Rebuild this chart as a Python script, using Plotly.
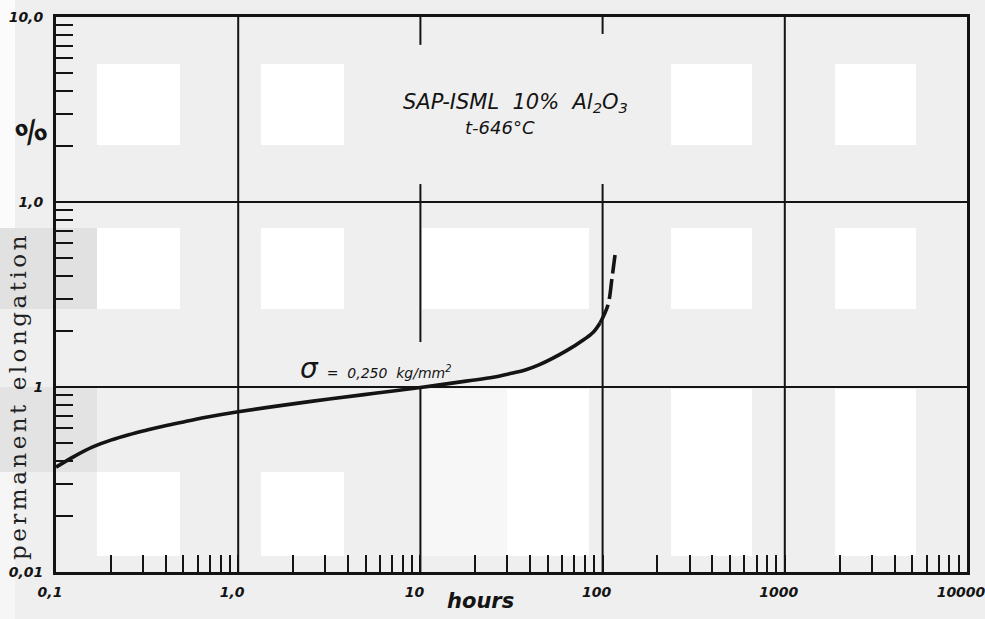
import math
import plotly.graph_objects as go

# Creep curve, SAP-ISML 10% Al2O3 at 646 °C, sigma = 0.250 kg/mm²
hours_solid = [0.1, 0.126, 0.158, 0.2, 0.251, 0.316, 0.398, 0.501, 0.631, 0.794,
               1.0, 1.78, 3.16, 5.62, 10.0, 17.8, 25.1, 31.6, 37.6, 44.7, 63.1, 79.4,
               89.1, 96.8]
elong_solid = [0.0369, 0.0422, 0.0473, 0.0516, 0.0552, 0.0585, 0.0617, 0.0647,
               0.0679, 0.0708, 0.0735, 0.0798, 0.0861, 0.0925, 0.0993, 0.1076,
               0.1128, 0.1185, 0.1236, 0.1316, 0.1567, 0.1811, 0.1982, 0.2218]
hours_dash = [96.8, 107.0, 112.6, 117.0]
elong_dash = [0.2218, 0.2776, 0.388, 0.517]

x_decades = [0.1, 1, 10, 100, 1000, 10000]
x_labels = ["0,1", "1,0", "10", "100", "1000", "10000"]
y_decades = [0.01, 0.1, 1, 10]
y_labels = ["0,01", "1", "1,0", "10,0"]

# figure geometry (pixels)
W, H = 985, 619
L, R, T, B = 56, 967, 17, 572
PW, PH = R - L, B - T
XMIN, XMAX = -1, 4
YMIN, YMAX = -2, 1


def fx(px):
    return (px - L) / PW


def fy(py):
    return (B - py) / PH


def lx(v):
    return (math.log10(v) - XMIN) / (XMAX - XMIN)


def ly(v):
    return (math.log10(v) - YMIN) / (YMAX - YMIN)


def log_ticks(decades):
    vals = []
    for i, d in enumerate(decades):
        vals.append(d)
        if i < len(decades) - 1:
            vals.extend(d * k for k in range(2, 10))
    return vals


xt = log_ticks(x_decades)
yt = log_ticks(y_decades)
xtext = [x_labels[x_decades.index(v)] if v in x_decades else "" for v in xt]
ytext = [y_labels[y_decades.index(v)] if v in y_decades else "" for v in yt]

INK = "#141414"
BG = "#efefef"

fig = go.Figure()
fig.add_trace(go.Scatter(x=hours_solid, y=elong_solid, mode="lines",
                         line=dict(color=INK, width=3.6, shape="spline", smoothing=1.0),
                         hoverinfo="skip", showlegend=False))
fig.add_trace(go.Scatter(x=hours_dash, y=elong_dash, mode="lines",
                         line=dict(color=INK, width=3.6, dash="20px,6px", shape="spline"),
                         hoverinfo="skip", showlegend=False))

shapes = []

# paper tone patches
patches = [
    (0, 0, 15, 228, "#fbfbfb"),
    (0, 472, 15, 619, "#f6f6f6"),
    (0, 228, 97, 309, "#e1e1e1"),
    (0, 387, 97, 472, "#e3e3e3"),
    (422, 389, 507, 556, "#f7f7f7"),
    (507, 389, 589, 556, "#ffffff"),
    (422, 228, 589, 309, "#ffffff"),
]
for cx0, cx1 in [(97, 180), (261, 344), (671, 752), (835, 916)]:
    patches.append((cx0, 64, cx1, 145, "#ffffff"))
    patches.append((cx0, 228, cx1, 309, "#ffffff"))
for cx0, cx1 in [(97, 180), (261, 344)]:
    patches.append((cx0, 472, cx1, 556, "#ffffff"))
for cx0, cx1 in [(671, 752), (835, 916)]:
    patches.append((cx0, 389, cx1, 556, "#ffffff"))
for x0, y0, x1, y1, c in patches:
    shapes.append(dict(type="rect", xref="paper", yref="paper",
                       x0=fx(x0), x1=fx(x1), y0=fy(y1), y1=fy(y0),
                       fillcolor=c, line=dict(width=0), layer="below"))

# grid lines (gaps left around the lettering)
grid_v = [
    (1, [(0.01, 10)]),
    (10, [(0.01, 0.1), (0.175, 1.25), (7.07, 10)]),
    (100, [(0.01, 1.25), (8.1, 10)]),
    (1000, [(0.01, 10)]),
]
for xv, segs in grid_v:
    for y0, y1 in segs:
        shapes.append(dict(type="line", xref="paper", yref="paper",
                           x0=lx(xv), x1=lx(xv), y0=ly(y0), y1=ly(y1),
                           line=dict(color=INK, width=2), layer="below"))
for yv in [0.1, 1]:
    shapes.append(dict(type="line", xref="paper", yref="paper",
                       x0=0, x1=1, y0=ly(yv), y1=ly(yv),
                       line=dict(color=INK, width=2), layer="below"))

annotations = [
    dict(text="SAP-ISML  10%  Al<sub>2</sub>O<sub>3</sub>", x=fx(515), y=fy(103),
         font=dict(family="DejaVu Sans", size=21, color=INK, style="italic")),
    dict(text="t-646°C", x=fx(500), y=fy(128),
         font=dict(family="DejaVu Sans", size=18, color=INK, style="italic")),
    dict(text="<span style='font-size:28px'>σ</span>  =  0,250  kg/mm<sup>2</sup>",
         x=fx(375), y=fy(368),
         font=dict(family="DejaVu Sans", size=14, color=INK, style="italic")),
    dict(text="%", x=fx(31), y=fy(132), textangle=-20,
         font=dict(family="DejaVu Sans", size=30, color=INK, weight="bold")),
    dict(text="<span style='letter-spacing:3.5px'>permanent elongation</span>",
         x=fx(18), y=fy(396), textangle=-90,
         font=dict(family="DejaVu Serif", size=23, color="#202020")),
    dict(text="hours", x=fx(480), y=fy(601),
         font=dict(family="DejaVu Sans", size=21, color=INK, style="italic", weight="bold")),
]
for a in annotations:
    a.update(xref="paper", yref="paper", showarrow=False, xanchor="center", yanchor="middle")

tickfont = dict(family="DejaVu Sans", size=14, color=INK, style="italic", weight="bold")

axis_common = dict(type="log", ticks="inside", ticklen=17, tickwidth=2, tickcolor=INK,
                   showgrid=False, zeroline=False, showline=True, linecolor=INK,
                   linewidth=3, mirror=True, tickfont=tickfont,
                   ticklabeloverflow="allow", automargin=False)

fig.update_layout(
    width=W, height=H,
    margin=dict(l=L, r=W - R, t=T, b=H - B),
    paper_bgcolor=BG, plot_bgcolor="rgba(0,0,0,0)",
    shapes=shapes, annotations=annotations, showlegend=False,
    xaxis=dict(range=[XMIN, XMAX], tickvals=xt, ticktext=xtext,
               ticklabelstandoff=5, ticklabelshift=-6, **axis_common),
    yaxis=dict(range=[YMIN, YMAX], tickvals=yt, ticktext=ytext,
               ticklabelstandoff=7, **axis_common),
)

fig.write_html("out.html")
